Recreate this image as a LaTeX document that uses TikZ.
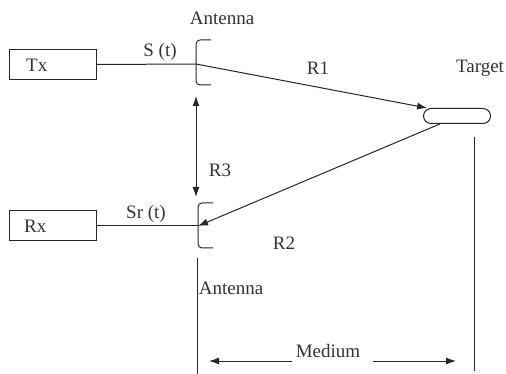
\documentclass[tikz,border=0pt]{standalone}
\usepackage{fontspec}
\setmainfont{Liberation Serif}
\usetikzlibrary{arrows.meta}
\begin{document}
\begin{tikzpicture}[x=1pt,y=-1pt,
  every node/.style={font=\fontsize{19}{21}\selectfont, inner sep=0pt, text=black!80},
  line/.style={line width=1pt, draw=black!85},
  arr/.style={line, -{Latex[length=10pt,width=7pt]}},
  dbl/.style={line, {Latex[length=10pt,width=7pt]}-{Latex[length=10pt,width=7pt]}},
  box/.style={draw=black!85, line width=1pt, minimum width=87pt, minimum height=30pt}]
\useasboundingbox (0,0) rectangle (506,374);
% boxes
\node[box] (tx) at (53,64.5) {};
\node[anchor=west] at (26,65) {Tx};
\node[box] (rx) at (53,226) {};
\node[anchor=west] at (24,226) {Rx};
% antenna points
\coordinate (a1) at (196,64);
\coordinate (a2) at (198,226);
\draw[line, rounded corners=4pt] (211,40) -- (196,40) -- (196,85) -- (211,85);
\draw[line, rounded corners=4pt] (213,203) -- (198,203) -- (198,248) -- (213,248);
\draw[line] (tx.east) -- (a1);
\draw[line] (rx.east) -- (a2);
% target
\node[draw=black!85, line width=1pt, rounded corners=7.5pt, minimum width=67pt, minimum height=15pt] (tgt) at (457,116) {};
\draw[arr] (a1) -- (tgt.165);
\draw[arr] (tgt.205) -- (a2);
% R3
\coordinate (r3a) at (196,96);
\coordinate (r3b) at (196,197);
\draw[dbl] (r3a) -- (r3b);
% vertical lines
\coordinate (v1a) at (197,258);
\coordinate (v1b) at (197,374);
\draw[line] (v1a) -- (v1b);
\coordinate (v2a) at (474,137);
\coordinate (v2b) at (474,371);
\draw[line] (v2a) -- (v2b);
% medium
\node (med) at (328,351) {Medium};
\coordinate (m1) at (209,361);
\coordinate (m2) at (456,361);
\draw[arr] (292,361) -- (m1);
\draw[arr] (373,361) -- (m2);
% labels
\node at (222,18) {Antenna};
\node at (231,288) {Antenna};
\node at (160,52) {S (t)};
\node at (146,214) {Sr (t)};
\node at (318,68) {R1};
\node at (220,170) {R3};
\node at (284,243) {R2};
\node at (480,68) {Target};
\end{tikzpicture}
\end{document}
